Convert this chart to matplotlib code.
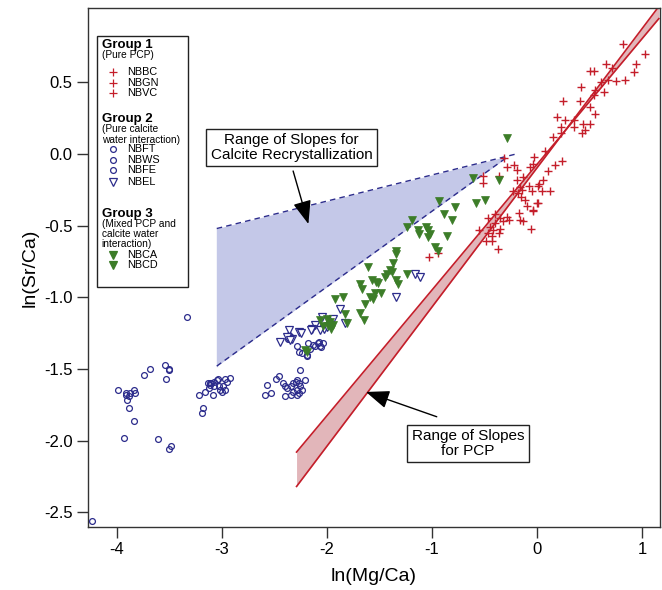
import numpy as np
import matplotlib
matplotlib.use("Agg")
import matplotlib.pyplot as plt
from matplotlib.patches import Rectangle

plt.rcParams['font.family'] = ['Liberation Sans', 'DejaVu Sans']

RED = '#c41e2a'
NAVY = '#2c2c8c'
GREEN = '#3c7d28'

# Group 1 - pure PCP
nbbc_x = [0.82, 1.03, 0.66, 0.94, 0.50, 0.54, 0.71, 0.92, 0.61, 0.68, 0.75, 0.84, 0.42, 0.55, 0.64, 0.54,
          0.25, 0.41, 0.50, 0.55, 0.19, 0.27, 0.35, 0.44, 0.50, 0.23, 0.35, 0.23, 0.43, 0.46, 0.15]
nbbc_y = [0.77, 0.70, 0.63, 0.63, 0.58, 0.58, 0.60, 0.57, 0.50, 0.52, 0.51, 0.52, 0.47, 0.45, 0.43, 0.41,
          0.37, 0.37, 0.33, 0.28, 0.26, 0.24, 0.24, 0.21, 0.21, 0.19, 0.19, 0.15, 0.15, 0.17, 0.12]
nbgn_x = [0.24, -0.03, -0.04, -0.29, -0.22, -0.19, -0.07, -0.31, -0.36, -0.51, -0.51, -0.19, -0.13, 0.06,
          0.02, -0.08, -0.05, 0.01, -0.23, -0.16, -0.14, 0.05, 0.12, 0.10, 0.17, 0.08]
nbgn_y = [-0.05, -0.02, -0.07, -0.09, -0.08, -0.11, -0.09, -0.03, -0.15, -0.20, -0.15, -0.18, -0.16, -0.18,
          -0.21, -0.22, -0.26, -0.22, -0.26, -0.23, -0.25, -0.26, -0.26, -0.12, -0.08, 0.02]
nbvc_x = [-0.11, -0.10, 0.00, -0.04, 0.01, -0.04, -0.18, -0.15, -0.17, -0.47, -0.40, -0.35, -0.29, -0.16,
          -0.13, -0.06, -0.55, -0.45, -0.40, -0.35, -0.32, -0.27, -0.47, -0.43, -0.36, -0.42, -0.49, -0.43,
          -0.37, -1.03, -0.94]
nbvc_y = [-0.32, -0.36, -0.34, -0.39, -0.34, -0.40, -0.27, -0.30, -0.41, -0.45, -0.42, -0.45, -0.44, -0.46,
          -0.47, -0.52, -0.53, -0.51, -0.48, -0.52, -0.47, -0.46, -0.55, -0.57, -0.55, -0.53, -0.61, -0.61,
          -0.66, -0.72, -0.69]

# Group 2 - pure calcite water interaction
nbft_x = [-3.33, -3.99, -3.91, -3.89, -3.88, -3.91, -3.84, -3.83, -3.90, -3.89, -3.84, -3.93, -3.74, -3.69,
          -3.54, -3.50, -3.50, -3.53, -3.61, -3.49, -3.50, -4.24]
nbft_y = [-1.14, -1.65, -1.67, -1.69, -1.67, -1.68, -1.65, -1.67, -1.72, -1.77, -1.86, -1.98, -1.54, -1.50,
          -1.47, -1.50, -1.51, -1.57, -1.99, -2.04, -2.06, -2.56]
nbws_x = [-3.22, -3.16, -3.18, -3.19, -3.09, -3.13, -3.11, -3.10, -3.08, -3.05, -3.04, -2.97, -2.92, -2.99,
          -2.95, -3.03, -3.02, -3.00, -2.97, -3.08, -3.11, -3.12]
nbws_y = [-1.68, -1.66, -1.77, -1.81, -1.68, -1.60, -1.61, -1.60, -1.59, -1.58, -1.57, -1.57, -1.56, -1.62,
          -1.59, -1.62, -1.65, -1.66, -1.65, -1.62, -1.60, -1.63]
nbfe_x = [-2.57, -2.59, -2.53, -2.49, -2.46, -2.42, -2.40, -2.38, -2.34, -2.32, -2.30, -2.29, -2.27, -2.26,
          -2.29, -2.32, -2.27, -2.24, -2.21, -2.26, -2.29, -2.34, -2.40, -2.29, -2.27, -2.24, -2.19, -2.19,
          -2.13, -2.11, -2.09, -2.07, -2.06, -2.08, -2.04, -2.36, -2.34, -2.37, -2.35, -2.18, -2.16]
nbfe_y = [-1.61, -1.68, -1.67, -1.57, -1.55, -1.60, -1.62, -1.63, -1.62, -1.60, -1.59, -1.58, -1.60, -1.62,
          -1.65, -1.66, -1.67, -1.65, -1.58, -1.51, -1.68, -1.68, -1.69, -1.34, -1.38, -1.39, -1.40, -1.41,
          -1.33, -1.34, -1.32, -1.34, -1.35, -1.31, -1.32, -1.26, -1.28, -1.29, -1.29, -1.32, -1.36]
nbel_x = [-1.16, -1.11, -1.34, -1.88, -1.94, -2.05, -2.11, -2.14, -2.03, -2.00, -1.97, -1.83, -2.36, -2.27,
          -2.25, -2.33, -2.45, -2.07, -2.15, -2.38, -2.35]
nbel_y = [-0.84, -0.86, -1.00, -1.08, -1.15, -1.14, -1.19, -1.22, -1.22, -1.21, -1.19, -1.18, -1.23, -1.24,
          -1.25, -1.29, -1.31, -1.23, -1.23, -1.28, -1.30]

# Group 3 - mixed
nbca_x = [-0.29, -0.61, -0.36, -0.58, -0.50, -0.93, -0.78, -0.89, -0.81, -1.19, -1.24, -1.13, -1.06, -1.04,
          -1.12, -1.04, -1.02, -0.86, -0.97, -0.94, -1.34, -1.34]
nbca_y = [0.11, -0.17, -0.18, -0.34, -0.32, -0.33, -0.37, -0.42, -0.46, -0.46, -0.51, -0.53, -0.51, -0.53,
          -0.56, -0.58, -0.56, -0.57, -0.65, -0.68, -0.68, -0.70]
nbcd_x = [-1.61, -1.37, -1.40, -1.43, -1.45, -1.38, -1.34, -1.32, -1.24, -1.69, -1.67, -1.57, -1.53, -1.51,
          -1.54, -1.56, -1.59, -1.49, -1.92, -1.85, -1.64, -1.69, -1.65, -1.83, -1.81, -2.00, -1.97, -1.94,
          -1.99, -1.96, -2.07, -2.04, -2.21, -2.19]
nbcd_y = [-0.79, -0.76, -0.81, -0.84, -0.86, -0.82, -0.88, -0.91, -0.84, -0.91, -0.94, -0.88, -0.89, -0.90,
          -0.97, -1.01, -1.00, -0.97, -1.01, -1.00, -1.05, -1.11, -1.16, -1.12, -1.18, -1.15, -1.17, -1.19,
          -1.20, -1.22, -1.16, -1.20, -1.37, -1.38]

# slope envelopes
calc_upper_x = [-3.05, -0.20]
calc_upper_y = [-0.52, 0.00]
calc_lower_x = [-3.05, -0.30]
calc_lower_y = [-1.48, -0.03]
pcp_x = [-2.29, 1.16]
pcp_a_y = [-2.08, 0.945]
pcp_b_y = [-2.32, 1.03]

fig = plt.figure(figsize=(6.62, 5.90), dpi=100)
ax = fig.add_axes([88 / 662, 63 / 590, 572 / 662, 519 / 590])

# calcite recrystallization wedge
wx = np.linspace(calc_upper_x[0], calc_lower_x[1], 50)
ax.fill_between(wx, np.interp(wx, calc_lower_x, calc_lower_y), np.interp(wx, calc_upper_x, calc_upper_y),
                color='#c4c8e8', lw=0, zorder=1)
ax.plot([calc_upper_x[0]] * 2, [calc_lower_y[0], calc_upper_y[0]], color='#c4c8e8', lw=1, zorder=1)
ax.plot(calc_upper_x, calc_upper_y, color=NAVY, lw=1, dashes=(4, 3), zorder=2)
ax.plot(calc_lower_x, calc_lower_y, color=NAVY, lw=1, dashes=(4, 3), zorder=2)

# PCP band
ax.fill_between(pcp_x, pcp_a_y, pcp_b_y, color='#e2b6ba', lw=0, zorder=1)
ax.plot(pcp_x, pcp_a_y, color=RED, lw=1.2, zorder=2)
ax.plot(pcp_x, pcp_b_y, color=RED, lw=1.2, zorder=2)

ms_plus, ms_circ, ms_tri = 5.5, 4.2, 5.2
for xs, ys in [(nbbc_x, nbbc_y), (nbgn_x, nbgn_y), (nbvc_x, nbvc_y)]:
    ax.plot(xs, ys, '+', color=RED, ms=ms_plus, mew=1.0, zorder=3)
for xs, ys in [(nbft_x, nbft_y), (nbws_x, nbws_y), (nbfe_x, nbfe_y)]:
    ax.plot(xs, ys, 'o', mfc='none', mec=NAVY, ms=ms_circ, mew=0.9, zorder=3)
ax.plot(nbel_x, nbel_y, 'v', mfc='white', mec=NAVY, ms=ms_tri, mew=0.9, zorder=3)
for xs, ys in [(nbca_x, nbca_y), (nbcd_x, nbcd_y)]:
    ax.plot(xs, ys, 'v', color=GREEN, ms=ms_tri, mew=0.5, zorder=3)

# annotations
ax.text(-2.336, 0.045, 'Range of Slopes for\nCalcite Recrystallization', ha='center', va='center',
        fontsize=11, linespacing=1.05,
        bbox=dict(boxstyle='square,pad=0.3', fc='white', ec='#222222', lw=1), zorder=5)
ax.annotate('', xy=(-2.17, -0.507), xytext=(-2.33, -0.10),
            arrowprops=dict(arrowstyle='-|>,head_length=0.9,head_width=0.35', color='black', lw=1,
                            mutation_scale=16), zorder=4)
ax.text(-0.657, -2.02, 'Range of Slopes\nfor PCP', ha='center', va='center',
        fontsize=11, linespacing=1.05,
        bbox=dict(boxstyle='square,pad=0.3', fc='white', ec='#222222', lw=1), zorder=5)
ax.annotate('', xy=(-1.654, -1.654), xytext=(-0.93, -1.84),
            arrowprops=dict(arrowstyle='-|>,head_length=0.9,head_width=0.35', color='black', lw=1,
                            mutation_scale=16), zorder=4)

# manual legend (axes fraction)
ax.add_patch(Rectangle((0.016, 0.463), 0.158, 0.483, transform=ax.transAxes, fc='white',
                       ec='#222222', lw=1, zorder=6))
hx, mx, lx = 0.024, 0.043, 0.068
headers = [('Group 1', 0.929), ('Group 2', 0.786), ('Group 3', 0.604)]
notes = [('(Pure PCP)', 0.909), ('(Pure calcite', 0.766), ('water interaction)', 0.746),
         ('(Mixed PCP and', 0.584), ('calcite water', 0.565), ('interaction)', 0.546)]
entries = [('NBBC', 0.876, '+', RED, RED), ('NBGN', 0.856, '+', RED, RED), ('NBVC', 0.836, '+', RED, RED),
           ('NBFT', 0.728, 'o', 'none', NAVY), ('NBWS', 0.707, 'o', 'none', NAVY),
           ('NBFE', 0.687, 'o', 'none', NAVY), ('NBEL', 0.665, 'v', 'white', NAVY),
           ('NBCA', 0.524, 'v', GREEN, GREEN), ('NBCD', 0.505, 'v', GREEN, GREEN)]
for t, y in headers:
    ax.text(hx, y, t, transform=ax.transAxes, fontsize=9.5, fontweight='bold', va='center', zorder=7)
for t, y in notes:
    ax.text(hx, y, t, transform=ax.transAxes, fontsize=7.3, va='center', zorder=7)
for t, y, m, fc, ec in entries:
    ms = ms_plus if m == '+' else (ms_circ if m == 'o' else ms_tri)
    ax.plot([mx], [y], m, transform=ax.transAxes, mfc=fc, mec=ec, ms=ms, mew=0.9, zorder=7)
    ax.text(lx, y, t, transform=ax.transAxes, fontsize=7.8, va='center', zorder=7)

ax.set_xlim(-4.276, 1.171)
ax.set_ylim(-2.603, 1.019)
ax.set_xticks([-4, -3, -2, -1, 0, 1])
ax.set_xticklabels(['-4', '-3', '-2', '-1', '0', '1'])
ax.set_yticks([0.5, 0.0, -0.5, -1.0, -1.5, -2.0, -2.5])
ax.set_yticklabels(['0.5', '0.0', '-0.5', '-1.0', '-1.5', '-2.0', '-2.5'])
ax.tick_params(direction='out', length=8, width=1, labelsize=12, color='#333333', pad=3)
for s in ax.spines.values():
    s.set_color('#333333')
    s.set_linewidth(1)
ax.set_xlabel('ln(Mg/Ca)', fontsize=14, labelpad=8)
ax.set_ylabel('ln(Sr/Ca)', fontsize=14, labelpad=4)

fig.savefig('out.png', dpi=100)
